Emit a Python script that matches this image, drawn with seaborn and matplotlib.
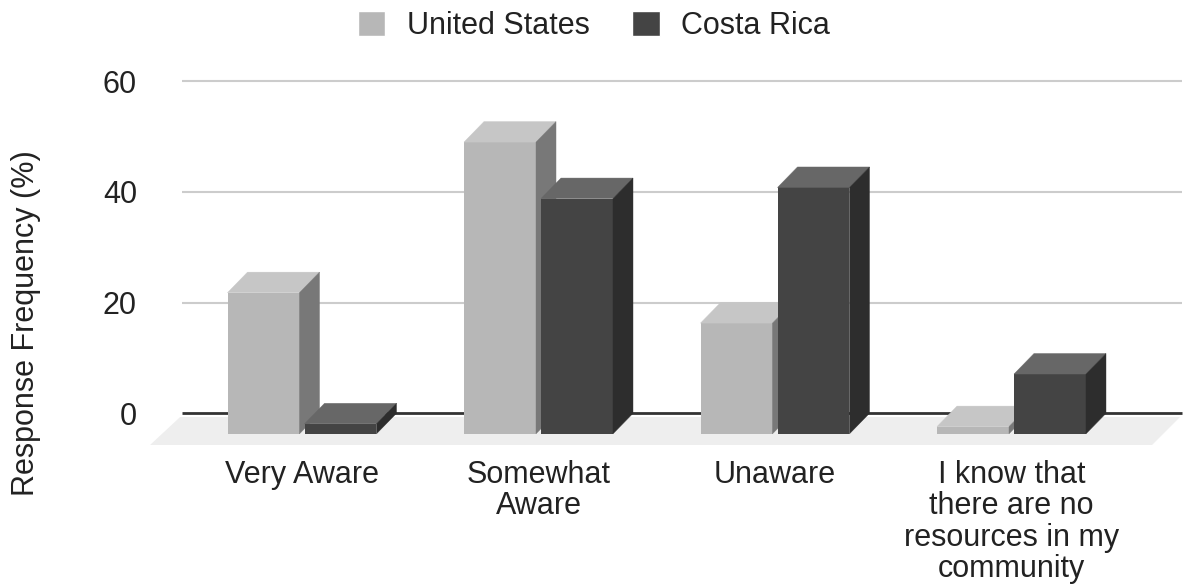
import numpy as np
import pandas as pd
import seaborn as sns
import matplotlib.pyplot as plt
from matplotlib.patches import Polygon, Patch

# Survey responses (% of respondents)
categories = ["Very Aware", "Somewhat\nAware", "Unaware",
              "I know that\nthere are no\nresources in my\ncommunity"]
series = ["United States", "Costa Rica"]
us_values = [25.5, 52.7, 20.0, 1.3]
cr_values = [1.8, 42.5, 44.5, 10.8]
y_ticks = [0, 20, 40, 60]

# Shades for the faces of the 3D-looking bars: front, top, side
front_colors = ["#b7b7b7", "#444444"]
top_colors = ["#c6c6c6", "#676767"]
side_colors = ["#787878", "#2d2d2d"]

sns.set_theme(style="white")
plt.rcParams["font.family"] = ["Liberation Sans", "DejaVu Sans"]
text_color = "#222222"

W, H = 1188, 586
fig = plt.figure(figsize=(W / 100, H / 100), dpi=100)
ax = fig.add_axes([150 / W, (H - 452) / H, 1035 / W, 382 / H])

df = pd.DataFrame({
    "category": categories * 2,
    "country": [series[0]] * len(categories) + [series[1]] * len(categories),
    "value": us_values + cr_values,
})

sns.barplot(data=df, x="category", y="value", hue="country",
            order=categories, hue_order=series, palette=front_colors,
            saturation=1, width=0.651, gap=0.065, errorbar=None,
            legend=False, linewidth=0, ax=ax)

# depth of the extrusion in data units (about 20 px each way)
DX = 20 / 236.5
DY = 20.5 / 5.535

for k, container in enumerate(ax.containers):
    for bar in container:
        x, w, h = bar.get_x(), bar.get_width(), bar.get_height()
        # front face sits in front of (left of and below) the back plane
        bar.set_x(x - DX)
        bar.set_y(-DY)
        bar.set_zorder(3 + k)
        top = Polygon([(x - DX, h - DY), (x - DX + w, h - DY),
                       (x + w, h), (x, h)],
                      closed=True, facecolor=top_colors[k],
                      edgecolor=top_colors[k], lw=0.3, zorder=3 + k)
        side = Polygon([(x - DX + w, -DY), (x + w, 0),
                        (x + w, h), (x - DX + w, h - DY)],
                       closed=True, facecolor=side_colors[k],
                       edgecolor=side_colors[k], lw=0.3, zorder=3 + k)
        ax.add_patch(top)
        ax.add_patch(side)

# floor slab under the bars
floor = Polygon([(-0.600, -0.67), (3.628, -0.67), (3.51, -5.72), (-0.727, -5.72)],
                closed=True, facecolor="#eeeeee", edgecolor="none",
                zorder=1, clip_on=False)
ax.add_patch(floor)

# back-wall gridlines
ax.hlines([v for v in y_ticks if v != 0], -0.592, 3.636,
          color="#cccccc", lw=1.5, zorder=0.5)
ax.hlines(0, -0.592, 3.636, color="#333333", lw=2, zorder=0.6)

ax.set_xlim(-0.7273, 3.649)
ax.set_ylim(-6.99, 62.02)

ax.set_xticks([i - DX for i in range(len(categories))])
ax.set_xticklabels(categories, fontsize=22, linespacing=1.05, color=text_color)
ax.set_yticks(y_ticks)
ax.set_yticklabels([str(v) for v in y_ticks], fontsize=22, color=text_color)
ax.tick_params(axis="x", length=0, pad=6)
ax.tick_params(axis="y", length=0, pad=9.4)
ax.set_xlabel("")
ax.set_ylabel("")
ax.grid(False)
for s in ax.spines.values():
    s.set_visible(False)

fig.text(26 / W, 1 - 323 / H, "Response Frequency (%)", rotation=90,
         ha="center", va="center", fontsize=22, color=text_color)

handles = [Patch(facecolor=front_colors[0], label=series[0]),
           Patch(facecolor=front_colors[1], label=series[1])]
leg = fig.legend(handles=handles, loc="center", bbox_to_anchor=(0.5, 1 - 26 / H),
                 ncol=2, frameon=False, fontsize=22, handlelength=0.9,
                 handleheight=0.9, handletextpad=0.7, columnspacing=1.4)
for t in leg.get_texts():
    t.set_color(text_color)

fig.savefig("out.png", dpi=100)
